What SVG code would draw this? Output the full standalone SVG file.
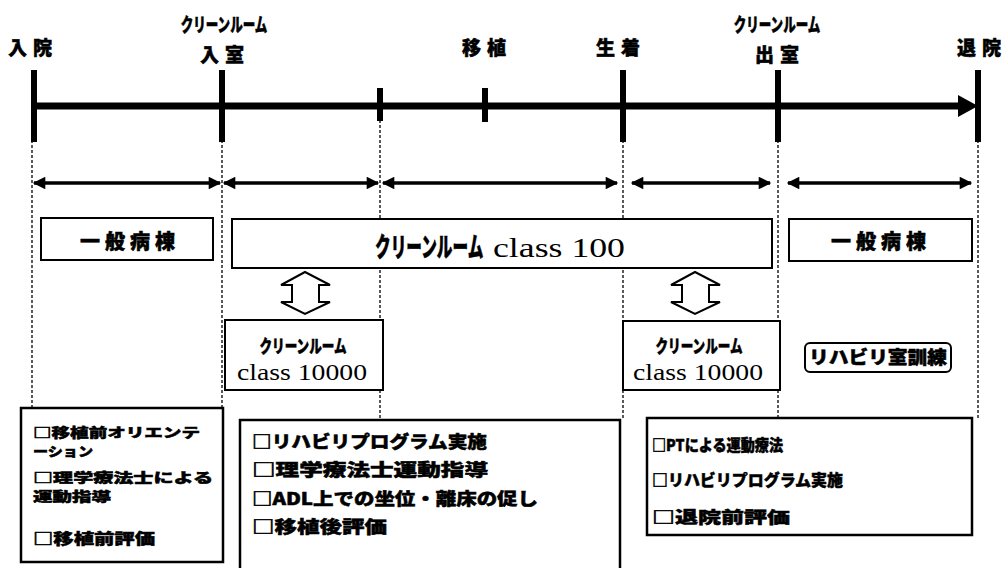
<svg xmlns="http://www.w3.org/2000/svg" width="1007" height="568" viewBox="0 0 1007 568">
<style>
.jp{font-family:"Noto Sans CJK JP","Noto Sans",sans-serif;font-weight:900;fill:#000;stroke:#000;stroke-width:0.5}
.se{font-family:"Liberation Serif",serif;font-weight:normal;fill:#000}
.box{fill:#fff;stroke:#000;stroke-width:2}
.bbox{fill:#fff;stroke:#000;stroke-width:2.5}
.dash{stroke:#000;stroke-width:1.3;stroke-dasharray:3 2;fill:none}
.tick{stroke:#000;stroke-width:6}
.da{stroke:#000;stroke-width:3.5;fill:none}
.hollow{fill:#fff;stroke:#000;stroke-width:2;stroke-linejoin:miter}
</style>
<defs>
<marker id="ah" viewBox="0 0 10 10" refX="9" refY="5" markerWidth="4.2" markerHeight="3.6" orient="auto-start-reverse" markerUnits="strokeWidth">
<path d="M0,0 L10,5 L0,10 z" fill="#000"/>
</marker>
</defs>
<rect width="1007" height="568" fill="#fff"/>

<g id="connectors">
<line class="dash" x1="32" y1="140" x2="32" y2="408"/>
<line class="dash" x1="222" y1="140" x2="222" y2="408"/>
<line class="dash" x1="380" y1="120" x2="380" y2="320"/>
<line class="dash" x1="380" y1="390" x2="380" y2="420"/>
<line class="dash" x1="623" y1="140" x2="623" y2="420"/>
<line class="dash" x1="778" y1="140" x2="778" y2="418"/>
<line class="dash" x1="978" y1="140" x2="978" y2="418"/>
<line x1="34" y1="106" x2="960" y2="106" stroke="#000" stroke-width="7"/>
<polygon points="958,95 978,106 958,117" fill="#000"/>
<line class="tick" x1="34" y1="70" x2="34" y2="142"/>
<line class="tick" x1="222" y1="70" x2="222" y2="142"/>
<line class="tick" x1="380" y1="88" x2="380" y2="121"/>
<line class="tick" x1="485" y1="88" x2="485" y2="122"/>
<line class="tick" x1="623" y1="70" x2="623" y2="142"/>
<line class="tick" x1="778" y1="70" x2="778" y2="142"/>
<line class="tick" x1="978" y1="70" x2="978" y2="142"/>
<line class="da" x1="34" y1="183" x2="220" y2="183" marker-start="url(#ah)" marker-end="url(#ah)"/>
<line class="da" x1="224" y1="183" x2="378" y2="183" marker-start="url(#ah)" marker-end="url(#ah)"/>
<line class="da" x1="383" y1="183" x2="617" y2="183" marker-start="url(#ah)" marker-end="url(#ah)"/>
<line class="da" x1="632" y1="183" x2="770" y2="183" marker-start="url(#ah)" marker-end="url(#ah)"/>
<line class="da" x1="788" y1="183" x2="971" y2="183" marker-start="url(#ah)" marker-end="url(#ah)"/>
<polygon class="hollow" points="305,272 330,285 319,285 319,302 330,302 305,314 281,302 292,302 292,285 281,285"/>
<polygon class="hollow" points="695,272 720,285 709,285 709,302 720,302 695,314 671,302 682,302 682,285 671,285"/>
</g>

<g id="milestones">
<text class="jp" x="33" y="55" font-size="19" letter-spacing="6" text-anchor="middle">入院</text>
<text class="jp" transform="translate(224,32) scale(0.66,1)" font-size="19" text-anchor="middle">クリーンルーム</text>
<text class="jp" x="225" y="62" font-size="19" letter-spacing="6" text-anchor="middle">入室</text>
<text class="jp" x="487" y="55" font-size="19" letter-spacing="6" text-anchor="middle">移植</text>
<text class="jp" x="621" y="55" font-size="19" letter-spacing="6" text-anchor="middle">生着</text>
<text class="jp" transform="translate(777,32) scale(0.66,1)" font-size="19" text-anchor="middle">クリーンルーム</text>
<text class="jp" x="780" y="62" font-size="19" letter-spacing="6" text-anchor="middle">出室</text>
<text class="jp" x="982" y="55" font-size="19" letter-spacing="6" text-anchor="middle">退院</text>
</g>

<g id="ward-left">
<rect class="box" x="41" y="218" width="172" height="42"/>
<text class="jp" x="130" y="249" font-size="20" letter-spacing="5" text-anchor="middle">一般病棟</text>
</g>

<g id="cleanroom-100">
<rect class="box" x="232" y="219" width="540" height="49"/>
<text class="jp" transform="translate(375,257) scale(0.58,1)" font-size="27">クリーンルーム</text>
<text class="se" x="493" y="257" font-size="28" textLength="132" lengthAdjust="spacingAndGlyphs">class 100</text>
</g>

<g id="ward-right">
<rect class="box" x="789" y="219" width="183" height="42"/>
<text class="jp" x="881" y="249" font-size="20" letter-spacing="5" text-anchor="middle">一般病棟</text>
</g>

<g id="cleanroom-10000-left">
<rect class="box" x="225" y="320" width="158" height="70"/>
<text class="jp" transform="translate(303,353) scale(0.7,1)" font-size="18" text-anchor="middle">クリーンルーム</text>
<text class="se" x="302" y="380" font-size="23" text-anchor="middle" textLength="130" lengthAdjust="spacingAndGlyphs">class 10000</text>
</g>

<g id="cleanroom-10000-right">
<rect class="box" x="623" y="321" width="157" height="69"/>
<text class="jp" transform="translate(699,353) scale(0.7,1)" font-size="18" text-anchor="middle">クリーンルーム</text>
<text class="se" x="698" y="380" font-size="23" text-anchor="middle" textLength="130" lengthAdjust="spacingAndGlyphs">class 10000</text>
</g>

<g id="rehab-room">
<rect class="box" x="805" y="343" width="146" height="29" rx="5"/>
<text class="jp" x="878" y="364" font-size="18" text-anchor="middle" textLength="138" lengthAdjust="spacingAndGlyphs">リハビリ室訓練</text>
</g>

<g id="tasks-pre">
<rect class="bbox" x="21" y="408" width="202" height="154"/>
<text class="jp" x="33" y="437" font-size="13" textLength="167" lengthAdjust="spacingAndGlyphs">□移植前オリエンテ</text>
<text class="jp" x="33" y="456" font-size="13" textLength="60" lengthAdjust="spacingAndGlyphs">ーション</text>
<text class="jp" x="33" y="482" font-size="13" textLength="180" lengthAdjust="spacingAndGlyphs">□理学療法士による</text>
<text class="jp" x="33" y="501" font-size="13" textLength="78" lengthAdjust="spacingAndGlyphs">運動指導</text>
<text class="jp" x="33" y="544" font-size="15" textLength="122" lengthAdjust="spacingAndGlyphs">□移植前評価</text>
</g>

<g id="tasks-cleanroom">
<rect class="bbox" x="240" y="420" width="380" height="160"/>
<text class="jp" x="252" y="448" font-size="17" textLength="235" lengthAdjust="spacingAndGlyphs">□リハビリプログラム実施</text>
<text class="jp" x="252" y="476" font-size="17" textLength="236" lengthAdjust="spacingAndGlyphs">□理学療法士運動指導</text>
<text class="jp" x="252" y="505" font-size="17" textLength="286" lengthAdjust="spacingAndGlyphs">□ADL上での坐位・離床の促し</text>
<text class="jp" x="252" y="533" font-size="17" textLength="135" lengthAdjust="spacingAndGlyphs">□移植後評価</text>
</g>

<g id="tasks-post">
<rect class="bbox" x="647" y="418" width="325" height="117"/>
<text class="jp" x="652" y="451" font-size="16" textLength="131" lengthAdjust="spacingAndGlyphs">□PTによる運動療法</text>
<text class="jp" x="652" y="486" font-size="16" textLength="191" lengthAdjust="spacingAndGlyphs">□リハビリプログラム実施</text>
<text class="jp" x="652" y="523" font-size="16" textLength="138" lengthAdjust="spacingAndGlyphs">□退院前評価</text>
</g>
</svg>
